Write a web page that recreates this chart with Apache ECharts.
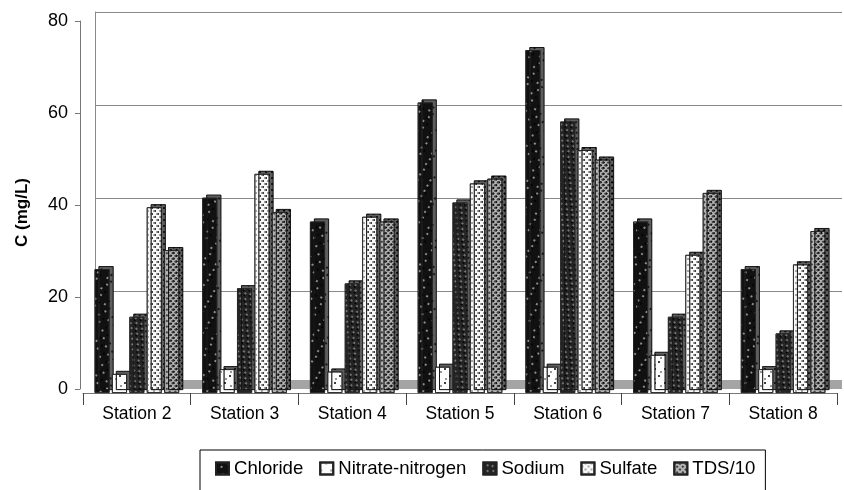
<!DOCTYPE html>
<html>
<head>
<meta charset="utf-8">
<script src="https://cdn.jsdelivr.net/npm/echarts@6/dist/echarts.min.js"></script>
<style>
  html, body { margin: 0; padding: 0; background: #fff; }
  #chart { width: 844px; height: 490px; }
</style>
</head>
<body>
<div id="chart"></div>
<script>
// station names along the bottom
var stations = ['Station 2', 'Station 3', 'Station 4', 'Station 5', 'Station 6', 'Station 7', 'Station 8'];
var chloride = [26, 41, 36, 61, 72, 36, 26];
var nitrate = [4, 5, 4.5, 5.5, 5.5, 8, 5];
var sodium = [16, 22, 23, 40, 57, 16, 12.5];
var sulfate = [39, 46, 37, 44, 51, 29, 27];
var tds10 = [30, 38, 36, 45, 49, 42, 34];
var yTicks = [0, 20, 40, 60, 80];

var font = 'Liberation Sans, Arial, sans-serif';

function barSeries(name, data, fill, dot, sym, dx, dy) {
    return {
        name: name,
        type: 'bar',
        xAxisIndex: 1,
        yAxisIndex: 1,
        data: data,
        barWidth: 15,
        barGap: '16%',
        itemStyle: {
            color: fill,
            borderColor: '#222',
            borderWidth: 0.8,
            shadowColor: '#5e5e5e',
            shadowBlur: 0,
            shadowOffsetX: 4,
            shadowOffsetY: -3,
            decal: {
                symbol: sym,
                symbolSize: 1,
                color: dot,
                dashArrayX: dx,
                dashArrayY: dy
            }
        }
    };
}

var myChart = echarts.init(document.getElementById('chart'));
var option = {
    animation: false,
    aria: { enabled: true, decal: { show: true } },
    textStyle: { fontFamily: font },
    grid: [
        // back wall
        { left: 95, right: 2, top: 12, bottom: 106 },
        // bars
        { left: 83, right: 7, top: 12, bottom: 97 },
        // front value axis
        { left: 80, right: 8, top: 21, bottom: 101 }
    ],
    legend: {
        left: 200,
        top: 450,
        itemWidth: 13,
        itemHeight: 12,
        itemGap: 16,
        icon: 'rect',
        padding: [9, 10, 20, 15],
        borderColor: '#000',
        borderWidth: 1,
        textStyle: { fontSize: 18.6, color: '#000', fontFamily: font }
    },
    graphic: [{
        type: 'text',
        left: 14,
        top: 178,
        rotation: Math.PI / 2,
        style: { text: 'C (mg/L)', font: 'bold 17px ' + font, fill: '#000' }
    }],
    xAxis: [{
        gridIndex: 0,
        type: 'category',
        data: stations,
        offset: 4,
        axisLine: { lineStyle: { color: '#a4a4a4', width: 9, cap: 'butt' } },
        axisTick: { show: false },
        axisLabel: { show: false }
    }, {
        gridIndex: 1,
        type: 'category',
        data: stations,
        axisLine: { lineStyle: { color: '#777', width: 1 } },
        axisTick: { show: true, length: 12, lineStyle: { color: '#444' } },
        axisLabel: { fontSize: 17.5, color: '#000', margin: 12, fontFamily: font }
    }, {
        gridIndex: 2,
        type: 'category',
        data: stations,
        show: false
    }],
    yAxis: [{
        gridIndex: 0,
        type: 'value',
        min: 0,
        max: 80,
        interval: 20,
        axisLine: { show: true, lineStyle: { color: '#8a8a8a' } },
        axisTick: { show: false },
        axisLabel: { show: false },
        splitLine: { show: true, lineStyle: { color: '#8a8a8a', width: 1.2 } }
    }, {
        gridIndex: 1,
        type: 'value',
        min: 0,
        max: 80,
        interval: 20,
        show: false,
        splitLine: { show: false }
    }, {
        gridIndex: 2,
        type: 'value',
        min: 0,
        max: 80,
        interval: 20,
        axisLine: { show: true, lineStyle: { color: '#777' } },
        axisTick: { show: true, length: 5, lineStyle: { color: '#777' } },
        axisLabel: {
            fontSize: 18, color: '#000', margin: 12, fontFamily: font,
            formatter: function (v) { return yTicks.indexOf(v) >= 0 ? v : ''; }
        },
        splitLine: { show: false }
    }],
    series: [
        barSeries('Chloride', chloride, '#111', '#b5b5b5', 'circle',
            [[2, 9], [0, 5.5, 2, 3.5]], [2, 3.5]),
        barSeries('Nitrate-nitrogen', nitrate, '#fcfcfc', '#777', 'circle',
            [[1.5, 8], [0, 4.75, 1.5, 3.25]], [1.5, 5]),
        barSeries('Sodium', sodium, '#242424', '#8c8c8c', 'circle',
            [[1.6, 4.4], [0, 3, 1.6, 1.4]], [1.6, 1.8]),
        barSeries('Sulfate', sulfate, '#f8f8f8', '#8a8a8a', 'circle',
            [[1.5, 3.5], [0, 2.5, 1.5, 1]], [1.5, 1]),
        barSeries('TDS/10', tds10, '#b4b4b4', '#404040', 'rect',
            [1.5, 1.5], [1.5, 1.5])
    ]
};
myChart.setOption(option);
</script>
</body>
</html>
